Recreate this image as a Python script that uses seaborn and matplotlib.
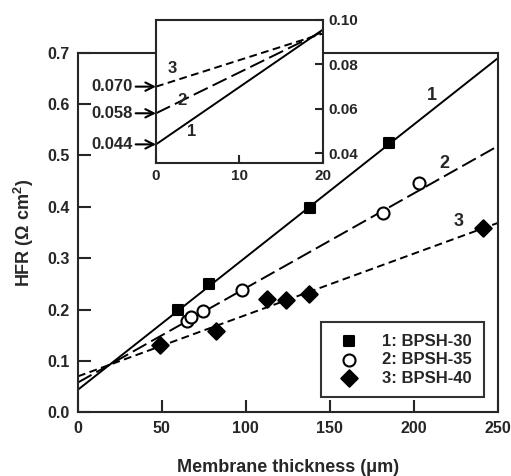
import numpy as np
import pandas as pd
import matplotlib
matplotlib.use("Agg")
import matplotlib.pyplot as plt
import seaborn as sns

sns.set_style("ticks")
plt.rcParams['font.family'] = ['Liberation Sans', 'DejaVu Sans']
plt.rcParams['font.weight'] = 'bold'
plt.rcParams['mathtext.fontset'] = 'custom'
plt.rcParams['mathtext.rm'] = 'Liberation Sans:bold'
plt.rcParams['mathtext.default'] = 'rm'

# data
labels = ["1: BPSH-30", "2: BPSH-35", "3: BPSH-40"]
x1 = [59.7, 78.2, 138.1, 185.3]
y1 = [0.199, 0.249, 0.397, 0.524]
x2 = [64.7, 67.1, 74.2, 97.8, 181.7, 203.2]
y2 = [0.178, 0.185, 0.198, 0.238, 0.387, 0.447]
x3 = [48.8, 82.5, 112.7, 123.8, 137.7, 241.3]
y3 = [0.131, 0.159, 0.220, 0.219, 0.230, 0.358]
intercepts = [0.044, 0.058, 0.070]
slopes = [0.00258, 0.00184, 0.001194]
line_tags = ["1", "2", "3"]

dashes = [(None, None), (8, 2.8), (4, 2.3)]
markers = ['s', 'o', 'D']
msizes = [55, 75, 70]
faces = ['black', 'white', 'black']

fig = plt.figure(figsize=(5.11, 4.76), dpi=100)
ax = fig.add_axes([0.1526, 0.1338, 0.8213, 0.7555])

xs = np.linspace(0, 250, 50)
for i in range(3):
    ln, = ax.plot(xs, intercepts[i] + slopes[i] * xs, color='black', lw=1.4)
    if dashes[i][0] is not None:
        ln.set_dashes(dashes[i])

pts = [(x1, y1), (x2, y2), (x3, y3)]
for i, (xx, yy) in enumerate(pts):
    df = pd.DataFrame({'x': xx, 'y': yy})
    sns.scatterplot(data=df, x='x', y='y', ax=ax, marker=markers[i], s=msizes[i],
                    color=faces[i], edgecolor='black', linewidth=1.5,
                    label=labels[i], zorder=3)

ax.set_xlim(0, 250)
ax.set_ylim(0, 0.7)
ax.set_xticks([0, 50, 100, 150, 200, 250])
ax.set_yticks(np.arange(0, 0.71, 0.1))
ax.set_yticklabels([f"{v:.1f}" for v in np.arange(0, 0.71, 0.1)])
ax.tick_params(direction='in', length=9, width=1.5, labelsize=11.5, pad=6)
for s in ax.spines.values():
    s.set_linewidth(1.5)
ax.set_xlabel("Membrane thickness (μm)", fontsize=13, fontweight='bold', labelpad=17)
ax.set_ylabel("HFR (Ω cm$^2$)", fontsize=13, fontweight='bold', labelpad=8)

# series tags on main plot
tag_pos = [(210.7, 0.616), (218.5, 0.485), (227, 0.371)]
for t, (tx, ty) in zip(line_tags, tag_pos):
    ax.text(tx, ty, t, fontsize=13, fontweight='bold', ha='center', va='center')

leg = ax.legend(loc='lower right', bbox_to_anchor=(0.967, 0.042), frameon=True,
                fancybox=False, edgecolor='black', fontsize=12,
                handletextpad=1.0, borderpad=0.7, labelspacing=0.2, borderaxespad=0)
leg.get_frame().set_linewidth(1.5)

# inset
axi = fig.add_axes([0.3053, 0.657, 0.3262, 0.301])
xi = np.linspace(0, 20, 20)
for i in range(3):
    ln, = axi.plot(xi, intercepts[i] + slopes[i] * xi, color='black', lw=1.4)
    if dashes[i][0] is not None:
        ln.set_dashes(dashes[i])
axi.set_xlim(0, 20)
axi.set_ylim(0.0355, 0.1)
axi.set_xticks([0, 10, 20])
axi.set_yticks([0.04, 0.06, 0.08, 0.10])
axi.set_yticklabels(["0.04", "0.06", "0.08", "0.10"])
axi.yaxis.tick_right()
axi.tick_params(direction='in', length=6, width=1.5, labelsize=11, pad=4)
for s in axi.spines.values():
    s.set_linewidth(1.5)

inset_tags = [(4.3, 0.050), (3.1, 0.0637), (1.9, 0.0783)]
for t, (tx, ty) in zip(line_tags, inset_tags):
    axi.text(tx, ty, t, fontsize=12, fontweight='bold', ha='center', va='center')

for v in intercepts:
    axi.annotate(f"{v:.3f}", xy=(0, v), xytext=(-17, 0), textcoords='offset points',
                 ha='right', va='center', fontsize=12, fontweight='bold',
                 annotation_clip=False,
                 arrowprops=dict(arrowstyle='->, head_length=0.5, head_width=0.25',
                                 color='black', lw=1.5, shrinkA=0, shrinkB=0))

fig.savefig("out.png", dpi=100)
